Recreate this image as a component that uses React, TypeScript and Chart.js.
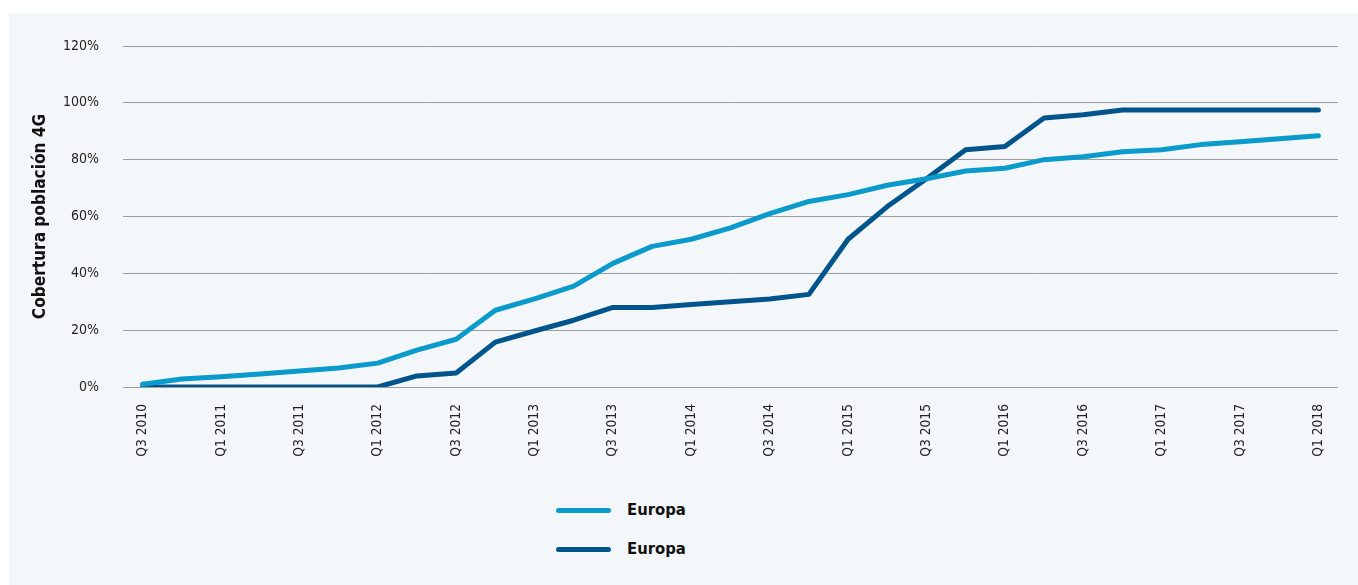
import React, { useEffect, useRef, useState } from "react";
import { Chart, registerables } from "chart.js";

Chart.register(...registerables);

const quarters: string[] = [
  "Q3 2010", "Q4 2010",
  "Q1 2011", "Q2 2011", "Q3 2011", "Q4 2011",
  "Q1 2012", "Q2 2012", "Q3 2012", "Q4 2012",
  "Q1 2013", "Q2 2013", "Q3 2013", "Q4 2013",
  "Q1 2014", "Q2 2014", "Q3 2014", "Q4 2014",
  "Q1 2015", "Q2 2015", "Q3 2015", "Q4 2015",
  "Q1 2016", "Q2 2016", "Q3 2016", "Q4 2016",
  "Q1 2017", "Q2 2017", "Q3 2017", "Q4 2017",
  "Q1 2018",
];

const seriesLightLabel = "Europa";
const seriesLight: number[] = [
  1, 2.8, 3.6, 4.6, 5.6, 6.7, 8.4, 13, 16.8, 27, 31, 35.5, 43.5, 49.5, 52, 56,
  61, 65.3, 67.7, 71, 73.3, 76, 77, 80, 81, 82.8, 83.5, 85.3, 86.3, 87.4, 88.4,
];

const seriesDarkLabel = "Europa";
const seriesDark: number[] = [
  0, 0, 0, 0, 0, 0, 0, 3.9, 4.9, 15.8, 19.7, 23.5, 28, 28, 29, 30, 31, 32.6,
  52, 63.5, 73.3, 83.5, 84.6, 94.7, 95.8, 97.5, 97.5, 97.5, 97.5, 97.5, 97.5,
];

const yTicks: number[] = [0, 20, 40, 60, 80, 100, 120];
const yTitle = "Cobertura población 4G";

const LIGHT = "#0a9acb";
const DARK = "#02548c";
const BG = "#f4f7f9";
const FONT =
  "'DejaVu Sans Condensed', 'Liberation Sans Narrow', 'Liberation Sans', Arial, sans-serif";

const legendItems = [
  { label: seriesLightLabel, color: LIGHT },
  { label: seriesDarkLabel, color: DARK },
];

// pick a font size so that a text spans a given width
function fitSize(text: string, weight: string, target: number, maxSize: number): number {
  const c = document.createElement("canvas").getContext("2d");
  if (!c) return maxSize;
  c.font = `${weight} 100px ${FONT}`;
  const w = c.measureText(text).width;
  const s = (100 * target) / w;
  return Math.min(maxSize, Math.round(s * 10) / 10);
}

export default function App() {
  const canvasRef = useRef<HTMLCanvasElement | null>(null);
  const [legendSize] = useState(() => fitSize("Europa", "bold", 59, 21));

  useEffect(() => {
    if (!canvasRef.current) return;
    const titleSize = fitSize(yTitle, "bold", 205, 23);
    const xTickSize = fitSize("Q3 2010", "normal", 53, 20);
    const yTickSize = 14;
    const chart = new Chart(canvasRef.current, {
      type: "line",
      data: {
        labels: quarters,
        datasets: [
          {
            label: seriesLightLabel,
            data: seriesLight,
            borderColor: LIGHT,
            backgroundColor: LIGHT,
            borderWidth: 5,
            pointRadius: 0,
            tension: 0,
            borderCapStyle: "round",
            borderJoinStyle: "round",
          },
          {
            label: seriesDarkLabel,
            data: seriesDark,
            borderColor: DARK,
            backgroundColor: DARK,
            borderWidth: 5,
            pointRadius: 0,
            tension: 0,
            borderCapStyle: "round",
            borderJoinStyle: "round",
          },
        ],
      },
      options: {
        animation: false,
        responsive: false,
        maintainAspectRatio: false,
        layout: { padding: { top: 33, right: 20, bottom: 0, left: 0 } },
        plugins: {
          legend: { display: false },
          tooltip: { enabled: false },
        },
        scales: {
          x: {
            offset: true,
            grid: { display: false, drawTicks: false },
            border: { display: false },
            ticks: {
              autoSkip: false,
              maxRotation: 90,
              minRotation: 90,
              padding: 17,
              color: "#222",
              font: { family: FONT, size: xTickSize },
              callback: (_v: any, i: number) => (i % 2 === 0 ? quarters[i] : ""),
            },
            afterFit: (scale: any) => {
              scale.height = 86;
            },
          },
          y: {
            min: 0,
            max: 120,
            afterBuildTicks: (scale: any) => {
              scale.ticks = yTicks.map((v) => ({ value: v }));
            },
            grid: { color: "#9d9d9d", lineWidth: 1, drawTicks: false },
            border: { display: false },
            ticks: {
              padding: 24,
              color: "#222",
              font: { family: FONT, size: yTickSize },
              callback: (v: any) => v + "%",
            },
            title: {
              display: true,
              text: yTitle,
              color: "#111",
              font: { family: FONT, size: titleSize, weight: "bold" },
              padding: { top: 21, bottom: 0 },
            },
            afterFit: (scale: any) => {
              scale.width = 114;
            },
          },
        },
      },
    });
    return () => chart.destroy();
  }, []);

  return (
    <div
      style={{
        position: "absolute",
        left: 9,
        top: 13,
        width: 1349,
        height: 572,
        background: BG,
      }}
    >
      <canvas ref={canvasRef} width={1349} height={460} style={{ display: "block" }} />
      {legendItems.map((it, i) => (
        <div
          key={i}
          style={{
            position: "absolute",
            left: 547,
            top: 497 - 13 + i * 39,
            height: 26,
            display: "flex",
            alignItems: "center",
          }}
        >
          <div
            style={{
              width: 55,
              height: 5,
              borderRadius: 3,
              background: it.color,
              marginRight: 16,
            }}
          />
          <span
            style={{
              fontFamily: FONT,
              fontWeight: "bold",
              fontSize: legendSize,
              lineHeight: "26px",
              color: "#111",
            }}
          >
            {it.label}
          </span>
        </div>
      ))}
    </div>
  );
}
